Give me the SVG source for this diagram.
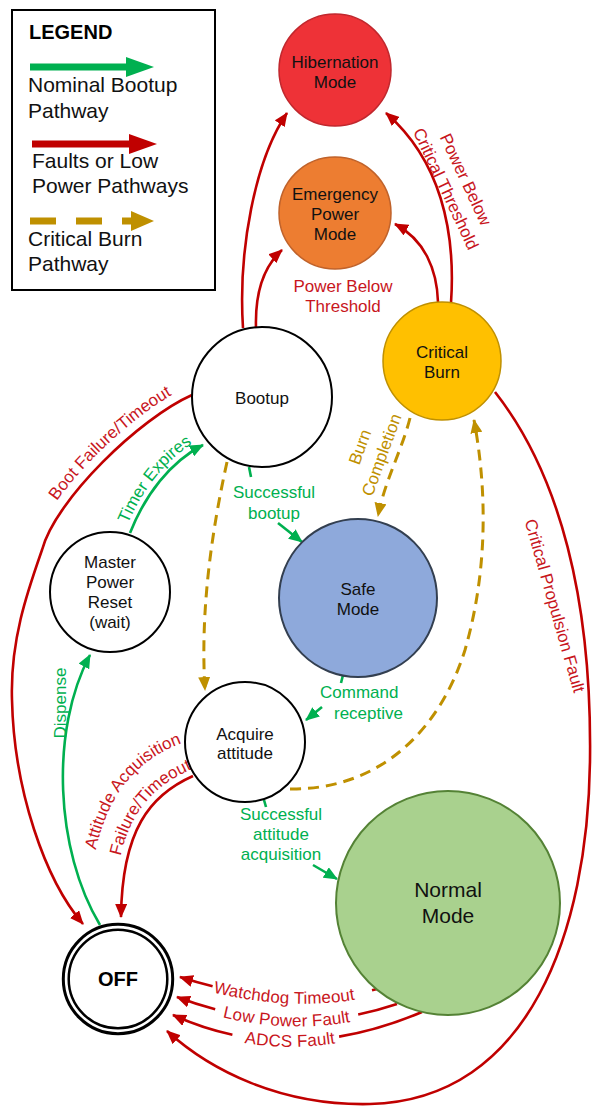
<svg xmlns="http://www.w3.org/2000/svg" width="592" height="1106" viewBox="0 0 592 1106">
<style>
text{font-family:"Liberation Sans",Arial,sans-serif;}
.n{font-size:17px;fill:#111;text-anchor:middle;}
.lg{font-size:21px;fill:#111;}
.lab{font-size:17px;}
.r{fill:#C8161D;}
.g{fill:#00B050;}
.y{fill:#BF9000;}
.er{fill:none;stroke:#C00000;stroke-width:2.6;}
.eg{fill:none;stroke:#00B050;stroke-width:2.6;}
.ey{fill:none;stroke:#BF9000;stroke-width:3;stroke-dasharray:11 7;}
.wn{fill:#fff;stroke:#000;stroke-width:2;}
</style>
<defs>
<marker id="ar" markerUnits="userSpaceOnUse" markerWidth="14" markerHeight="12" refX="13" refY="6" orient="auto"><path d="M0,0 L14,6 L0,12 z" fill="#C00000"/></marker>
<marker id="ag" markerUnits="userSpaceOnUse" markerWidth="14" markerHeight="12" refX="13" refY="6" orient="auto"><path d="M0,0 L14,6 L0,12 z" fill="#00B050"/></marker>
<marker id="ay" markerUnits="userSpaceOnUse" markerWidth="14" markerHeight="12" refX="13" refY="6" orient="auto"><path d="M0,0 L14,6 L0,12 z" fill="#BF9000"/></marker>
<path id="tpBoot" d="M33,546 C 49,492 134,411 189,386"/>
<path id="tpTimer" d="M125,531 C 140,492 166,458 199,440"/>
<path id="tpAtt1" d="M89,917 C 90,812 127,761 188,741"/>
<path id="tpAtt2" d="M114,917 C 115,826 145,790 190,770"/>
<path id="tpWd" d="M180,977 Q 290,1012 381,988"/>
<path id="tpLp" d="M177,997 Q 290,1040 397,1004"/>
<path id="tpAd" d="M173,1015 Q 290,1068 422,1012"/>
</defs>

<g id="legend">
<rect x="12" y="10" width="203" height="280" fill="#fff" stroke="#000" stroke-width="2"/>
<text x="29" y="39" font-size="20" font-weight="bold" fill="#000">LEGEND</text>
<line x1="30" y1="67" x2="128" y2="67" stroke="#00B050" stroke-width="7"/>
<polygon points="126,57 154,67 126,77" fill="#00B050"/>
<text class="lg" x="28" y="92">Nominal Bootup</text>
<text class="lg" x="28" y="118">Pathway</text>
<line x1="32" y1="144" x2="131" y2="144" stroke="#C00000" stroke-width="7"/>
<polygon points="129,134 157,144 129,154" fill="#C00000"/>
<text class="lg" x="32" y="168">Faults or Low</text>
<text class="lg" x="32" y="193">Power Pathways</text>
<line x1="30" y1="221" x2="133" y2="221" stroke="#BF9000" stroke-width="7" stroke-dasharray="26 20"/>
<polygon points="131,211 154,221 131,231" fill="#BF9000"/>
<text class="lg" x="28" y="246">Critical Burn</text>
<text class="lg" x="28" y="271">Pathway</text>
</g>

<g id="connectors">
<!-- Bootup -> Hibernation -->
<path class="er" d="M243,328 C 238,250 255,160 287,113" marker-end="url(#ar)"/>
<!-- Bootup -> Emergency -->
<path class="er" d="M256,328 C 255,295 262,268 282,250" marker-end="url(#ar)"/>
<!-- Critical Burn -> Emergency -->
<path class="er" d="M438,302 C 437,270 425,240 395,224" marker-end="url(#ar)"/>
<!-- Critical Burn -> Hibernation -->
<path class="er" d="M451,303 C 456,230 440,160 386,113" marker-end="url(#ar)"/>
<text class="lab r" x="343" y="292" text-anchor="middle">Power Below</text>
<text class="lab r" x="343" y="312" text-anchor="middle">Threshold</text>
<g transform="translate(456,184) rotate(65)">
<text class="lab r" x="0" y="-5" text-anchor="middle">Power Below</text>
<text class="lab r" x="0" y="17" text-anchor="middle">Critical Threshold</text>
</g>

<!-- Bootup -> OFF (Boot Failure/Timeout) -->
<path class="er" d="M192,395 C 140,418 55,500 42,550 C 28,590 10,640 12,700 C 14,790 45,880 83,924" marker-end="url(#ar)"/>
<text class="lab r"><textPath href="#tpBoot" startOffset="57%" text-anchor="middle">Boot Failure/Timeout</textPath></text>

<!-- Master Power Reset -> Bootup (Timer Expires) -->
<path class="eg" d="M130,533 C 145,495 170,462 203,445" marker-end="url(#ag)"/>
<text class="lab g"><textPath href="#tpTimer" startOffset="50%" text-anchor="middle">Timer Expires</textPath></text>

<!-- Bootup -> Safe Mode -->
<path class="eg" d="M249,467 L251,477"/>
<path class="eg" d="M278,523 L302,542" marker-end="url(#ag)"/>
<text class="lab g" x="274" y="498" text-anchor="middle">Successful</text>
<text class="lab g" x="274" y="519" text-anchor="middle">bootup</text>

<!-- Bootup -> Acquire attitude (dashed) -->
<path class="ey" d="M227,462 C 212,530 200,610 205,690" marker-end="url(#ay)"/>

<!-- Critical Burn -> Safe Mode (Burn Completion) -->
<path class="ey" d="M410,418 C 402,450 385,480 378,516" marker-end="url(#ay)"/>
<g transform="translate(371,451) rotate(-70)">
<text class="lab y" x="0" y="-6" text-anchor="middle">Burn</text>
<text class="lab y" x="0" y="17" text-anchor="middle">Completion</text>
</g>

<!-- Acquire attitude -> Critical Burn (dashed) -->
<path class="ey" d="M290,789 C 380,790 440,730 465,650 C 488,570 487,490 474,420" marker-end="url(#ay)"/>

<!-- Safe Mode -> Acquire attitude (Command receptive) -->
<path class="eg" d="M343,675 L341,683"/>
<path class="eg" d="M322,707 L306,720" marker-end="url(#ag)"/>
<text class="lab g" x="320" y="698">Command</text>
<text class="lab g" x="334" y="719">receptive</text>

<!-- Acquire attitude -> Normal Mode -->
<path class="eg" d="M264,800 L266,807"/>
<path class="eg" d="M313,865 L337,879" marker-end="url(#ag)"/>
<text class="lab g" x="281" y="820" text-anchor="middle">Successful</text>
<text class="lab g" x="281" y="840" text-anchor="middle">attitude</text>
<text class="lab g" x="281" y="860" text-anchor="middle">acquisition</text>

<!-- Acquire attitude -> OFF -->
<path class="er" d="M193,776 C 150,795 122,830 121,917" marker-end="url(#ar)"/>
<text class="lab r"><textPath href="#tpAtt1" startOffset="64%" text-anchor="middle">Attitude Acquisition</textPath></text>
<text class="lab r"><textPath href="#tpAtt2" startOffset="68%" text-anchor="middle">Failure/Timeout</textPath></text>

<!-- OFF -> Master Power Reset (Dispense) -->
<path class="eg" d="M100,925 C 55,850 50,730 90,655" marker-end="url(#ag)"/>
<text class="lab g" transform="translate(66,703) rotate(-90)" text-anchor="middle">Dispense</text>

<!-- Critical Burn -> OFF (Critical Propulsion Fault) -->
<path class="er" d="M495,392 C 560,475 592,600 590,760 C 588,930 530,1100 370,1104 C 280,1106 210,1070 167,1031" marker-end="url(#ar)"/>
<text class="lab r" transform="translate(554,606) rotate(74)" y="5" text-anchor="middle">Critical Propulsion Fault</text>

<!-- Normal Mode -> OFF (Watchdog Timeout) -->
<path class="er" d="M381,988 L372,990.2"/>
<path class="er" d="M212.6,986.2 Q196.5,982.3 180,977" marker-end="url(#ar)"/>
<!-- Normal Mode -> OFF (Low Power Fault) -->
<path class="er" d="M397,1004 Q377.7,1010.5 358.2,1014.4"/>
<path class="er" d="M215.2,1009.3 Q196.2,1004.3 177,997" marker-end="url(#ar)"/>
<!-- Normal Mode -> OFF (ADCS Fault) -->
<path class="er" d="M422,1012 Q379.8,1029.9 339.1,1036.6"/>
<path class="er" d="M232.4,1034.7 Q202.3,1028.3 173,1015" marker-end="url(#ar)"/>
<text class="lab r" dy="6"><textPath href="#tpWd" startOffset="52%" text-anchor="middle">Watchdog Timeout</textPath></text>
<text class="lab r" dy="6"><textPath href="#tpLp" startOffset="50%" text-anchor="middle">Low Power Fault</textPath></text>
<text class="lab r" dy="6"><textPath href="#tpAd" startOffset="47%" text-anchor="middle">ADCS Fault</textPath></text>
</g>

<g id="hibernation">
<circle cx="335" cy="70" r="56" fill="#EE3237" stroke="#C1272D" stroke-width="1.5"/>
<text class="n" x="335" y="68">Hibernation</text>
<text class="n" x="335" y="88">Mode</text>
</g>
<g id="emergency">
<circle cx="335" cy="213" r="56" fill="#ED7D31" stroke="#C0622A" stroke-width="1.5"/>
<text class="n" x="335" y="200">Emergency</text>
<text class="n" x="335" y="220">Power</text>
<text class="n" x="335" y="240">Mode</text>
</g>
<g id="critical-burn">
<circle cx="442" cy="361" r="59" fill="#FFC000" stroke="#BF9000" stroke-width="1.5"/>
<text class="n" x="442" y="358">Critical</text>
<text class="n" x="442" y="378">Burn</text>
</g>
<g id="bootup">
<circle class="wn" cx="262" cy="397" r="70"/>
<text class="n" x="262" y="404">Bootup</text>
</g>
<g id="master-power-reset">
<circle class="wn" cx="110" cy="592" r="60"/>
<text class="n" x="110" y="568">Master</text>
<text class="n" x="110" y="588">Power</text>
<text class="n" x="110" y="608">Reset</text>
<text class="n" x="110" y="628">(wait)</text>
</g>
<g id="safe-mode">
<circle cx="358" cy="598" r="79" fill="#8EA9DB" stroke="#333F50" stroke-width="2"/>
<text class="n" x="358" y="595">Safe</text>
<text class="n" x="358" y="615">Mode</text>
</g>
<g id="acquire-attitude">
<circle class="wn" cx="245" cy="742" r="60"/>
<text class="n" x="245" y="740">Acquire</text>
<text class="n" x="245" y="759">attitude</text>
</g>
<g id="normal-mode">
<circle cx="448" cy="903" r="112" fill="#A9D18E" stroke="#548235" stroke-width="2"/>
<text class="n" x="448" y="897" style="font-size:21px">Normal</text>
<text class="n" x="448" y="923" style="font-size:21px">Mode</text>
</g>
<g id="off">
<circle cx="118" cy="979" r="54.7" fill="#fff" stroke="#000" stroke-width="3"/>
<circle cx="118" cy="979" r="49.3" fill="none" stroke="#000" stroke-width="2.5"/>
<text x="118" y="986" text-anchor="middle" font-size="20" font-weight="bold" fill="#000">OFF</text>
</g>
</svg>
